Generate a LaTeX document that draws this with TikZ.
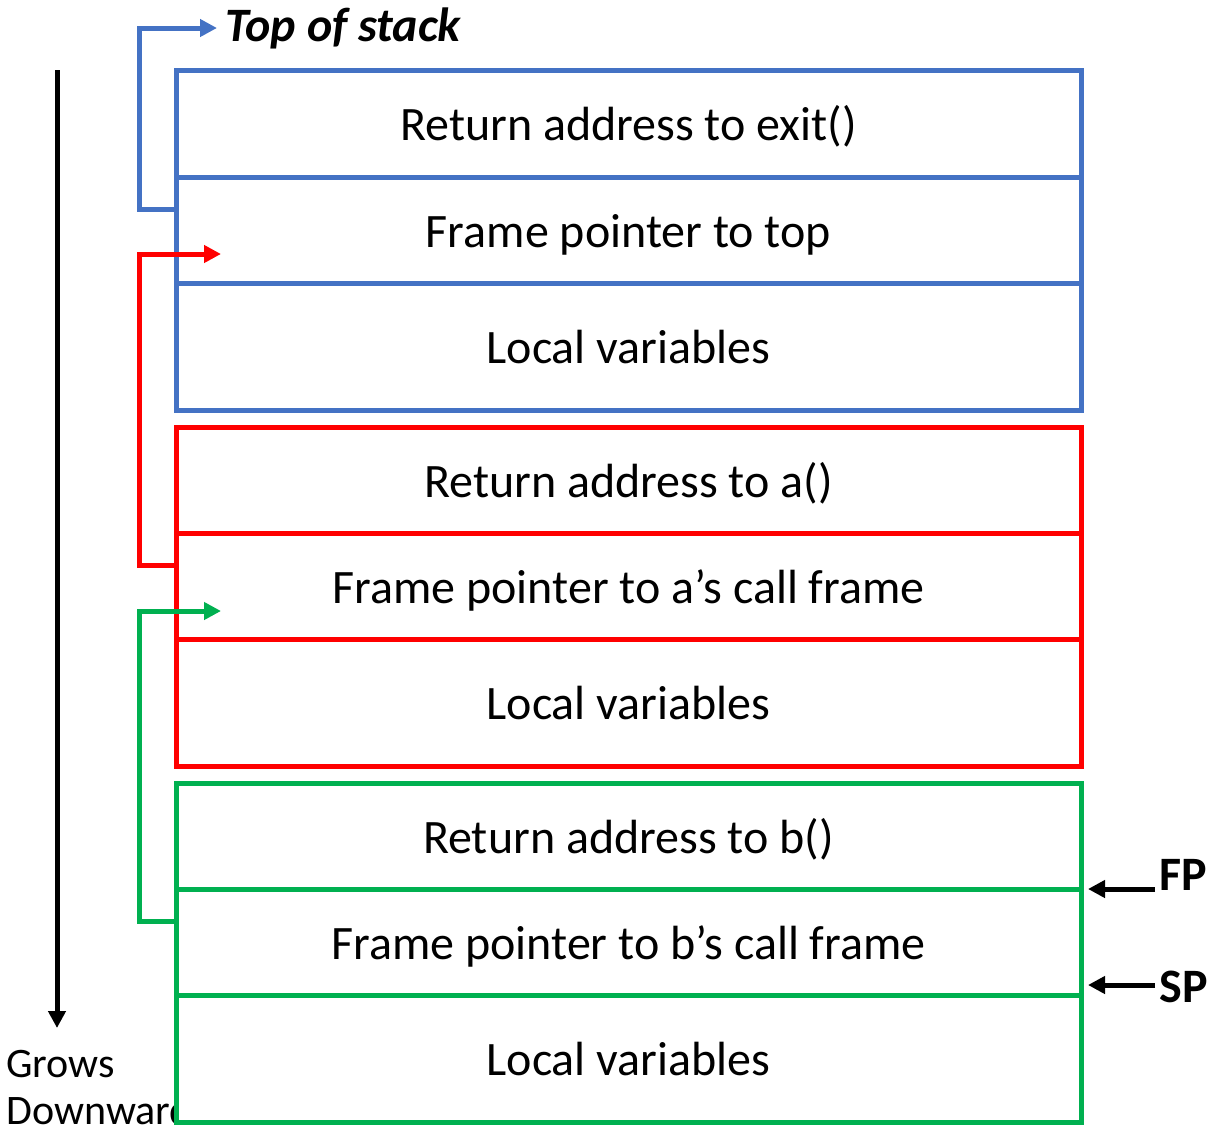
\documentclass[tikz,border=0pt]{standalone}
\usepackage{fontspec}
\setmainfont{Carlito}
\usetikzlibrary{positioning, arrows.meta}
\definecolor{frameblue}{RGB}{68,114,196}
\definecolor{framered}{RGB}{255,0,0}
\definecolor{framegreen}{RGB}{0,176,80}

\begin{document}
\begin{tikzpicture}
[x=0.5pt, y=-0.5pt,
 >={Triangle[length=8.5pt, width=8.5pt]},
 node distance=0pt,
 cell/.style={draw=#1, fill=white, line width=2.5pt, outer sep=0pt,
 minimum width=452.5pt, minimum height=53pt,
 text height=20pt, text depth=3pt,
 font=\fontsize{24}{28}\selectfont},
 link/.style={->, line width=2.5pt},
 tag/.style={font=\fontsize{24}{28}\selectfont\bfseries, inner sep=2pt}
]
\useasboundingbox (0,0) rectangle (1216,1131);

\node[align=left, anchor=north west, inner sep=0pt,
 font=\fontsize{21}{23.5}\selectfont] (grows) at (6,1050) {Grows\\Downward};
\coordinate (growtop) at (57,70);
\coordinate (growend) at (57,1028);
\draw[link] (growtop) -- (growend);

% frame of main
\node[cell=frameblue, anchor=north west, minimum height=53.5pt] (retexit) at (176,70) {Return address to exit()};
\node[cell=frameblue, below=of retexit] (fptop) {Frame pointer to top};
\node[cell=frameblue, below=of fptop, minimum height=63.5pt] (localtop) {Local variables};

% frame of a
\node[cell=framered, below=8.5pt of localtop] (reta) {Return address to a()};
\node[cell=framered, below=of reta] (fpa) {Frame pointer to a’s call frame};
\node[cell=framered, below=of fpa, minimum height=63.5pt] (locala) {Local variables};

% frame of b
\node[cell=framegreen, below=8.5pt of locala] (retb) {Return address to b()};
\node[cell=framegreen, below=of retb] (fpb) {Frame pointer to b’s call frame};
\node[cell=framegreen, below=of fpb, minimum height=63.5pt] (localb) {Local variables};

\node[tag, font=\fontsize{24}{28}\selectfont\bfseries\itshape, anchor=west, inner sep=4pt] (top) at (217,28) {Top of stack};

\draw[link, frameblue] ([yshift=-16pt]fptop.north west) -- ++(-18.5pt,0) |- (top.west);
\draw[link, framered] ([yshift=-16pt]fpa.north west) -- ++(-18.5pt,0) |- ([xshift=22.5pt, yshift=-38.5pt]fptop.north west);
\draw[link, framegreen] ([yshift=-16pt]fpb.north west) -- ++(-18.5pt,0) |- ([xshift=22.5pt, yshift=-39pt]fpa.north west);

\node[tag, anchor=west] (fp) at (1155,875) {FP};
\node[tag, anchor=west] (sp) at (1155,987) {SP};
\draw[link] (fp.west |- retb.south) -- ([xshift=3.5pt]retb.south east);
\draw[link] (sp.west |- 0,985) -- ([xshift=3.5pt, yshift=5pt]fpb.south east);
\end{tikzpicture}
\end{document}
